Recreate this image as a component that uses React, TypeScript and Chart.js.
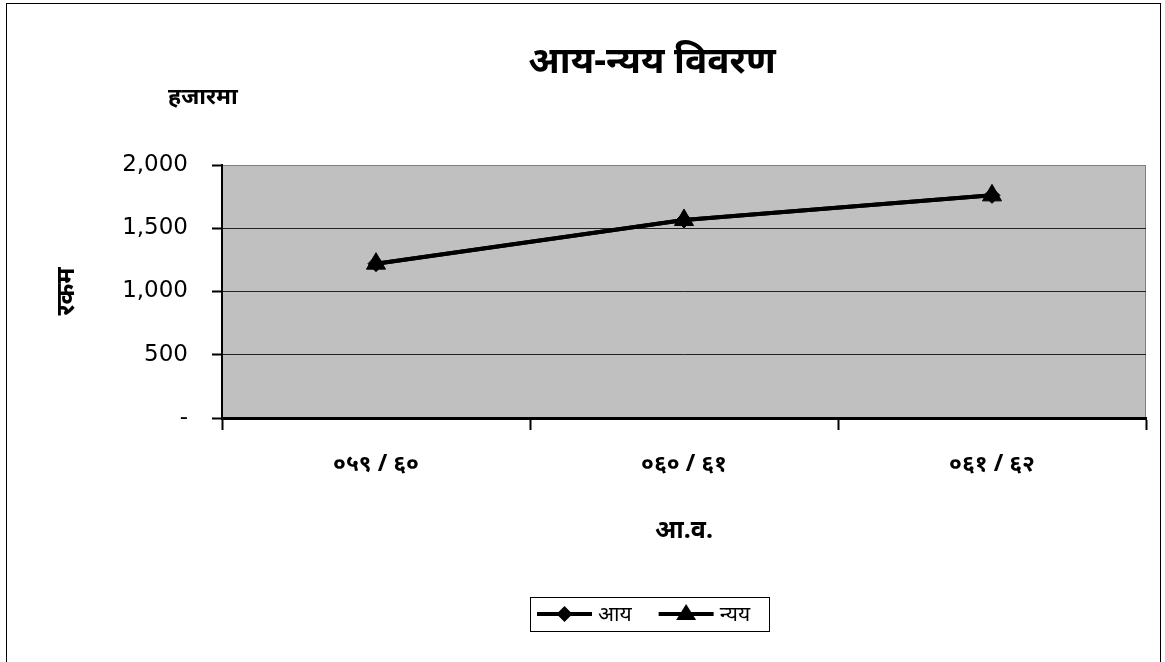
import React, { useEffect, useRef } from "react";
import { Chart, registerables } from "chart.js";

Chart.register(...registerables);

const categories = ["०५९ / ६०", "०६० / ६१", "०६१ / ६२"];
const aayValues = [1220, 1565, 1760];
const nyayValues = [1220, 1565, 1760];
const seriesNames = ["आय", "न्यय"];
const chartTitle = "आय-न्यय विवरण";
const unitLabel = "हजारमा";
const xTitle = "आ.व.";
const yTitle = "रकम";

const DEV = "'Noto Sans', 'DejaVu Sans', sans-serif";

const decorPlugin = {
  id: "decor",
  beforeDraw(chart: any) {
    const { ctx, chartArea } = chart;
    ctx.save();
    ctx.fillStyle = "#ffffff";
    ctx.fillRect(0, 0, chart.width, chart.height);
    ctx.fillStyle = "#c0c0c0";
    ctx.fillRect(chartArea.left, chartArea.top, chartArea.right - chartArea.left, chartArea.bottom - chartArea.top);
    ctx.strokeStyle = "#808080";
    ctx.lineWidth = 1;
    ctx.strokeRect(chartArea.left + 0.5, chartArea.top + 0.5, chartArea.right - chartArea.left - 1, chartArea.bottom - chartArea.top - 1);
    ctx.restore();
  },
  afterDraw(chart: any) {
    const { ctx } = chart;
    ctx.save();
    // outer frame
    ctx.strokeStyle = "#000";
    ctx.lineWidth = 1;
    ctx.strokeRect(6.5, 3.5, 1154, 720);
    // title
    ctx.fillStyle = "#000";
    ctx.textAlign = "center";
    ctx.textBaseline = "middle";
    ctx.font = `bold 37px ${DEV}`;
    ctx.fillText(chartTitle, 652, 62);
    ctx.font = `bold 23px ${DEV}`;
    ctx.fillText(unitLabel, 203, 97);

    // legend
    const legendFont = `21px ${DEV}`;
    ctx.font = legendFont;
    const lineLen = 55;
    const gap = 6;
    const itemGap = 27;
    const w0 = ctx.measureText(seriesNames[0]).width;
    const w1 = ctx.measureText(seriesNames[1]).width;
    const inner = lineLen + gap + w0 + itemGap + lineLen + gap + w1;
    const padX = 7;
    const boxW = Math.max(inner + padX * 2, 239);
    const cx = 649;
    const boxL = Math.round(cx - boxW / 2);
    const boxT = 597;
    const boxH = 34;
    ctx.strokeStyle = "#000";
    ctx.lineWidth = 1;
    ctx.strokeRect(boxL + 0.5, boxT + 0.5, boxW, boxH);
    const cy = boxT + boxH / 2;
    let x = boxL + padX;
    const styles = ["rectRot", "triangle"];
    const names = seriesNames;
    const widths = [w0, w1];
    for (let i = 0; i < 2; i++) {
      ctx.strokeStyle = "#000";
      ctx.lineWidth = 4;
      ctx.beginPath();
      ctx.moveTo(x, cy);
      ctx.lineTo(x + lineLen, cy);
      ctx.stroke();
      ctx.fillStyle = "#000";
      ctx.lineWidth = 1;
      if (styles[i] === "rectRot") {
        const r = 8;
        ctx.beginPath();
        ctx.moveTo(x + lineLen / 2, cy - r);
        ctx.lineTo(x + lineLen / 2 + r, cy);
        ctx.lineTo(x + lineLen / 2, cy + r);
        ctx.lineTo(x + lineLen / 2 - r, cy);
        ctx.closePath();
        ctx.fill();
      } else {
        const r = 10;
        ctx.beginPath();
        ctx.moveTo(x + lineLen / 2, cy - r);
        ctx.lineTo(x + lineLen / 2 + r, cy + r * 0.6);
        ctx.lineTo(x + lineLen / 2 - r, cy + r * 0.6);
        ctx.closePath();
        ctx.fill();
      }
      ctx.font = legendFont;
      ctx.textAlign = "left";
      ctx.fillStyle = "#000";
      ctx.fillText(names[i], x + lineLen + gap, cy + 1);
      x += lineLen + gap + widths[i] + itemGap;
    }
    ctx.restore();
  },
};

export default function App() {
  const ref = useRef<HTMLCanvasElement | null>(null);
  useEffect(() => {
    if (!ref.current) return;
    const chart = new Chart(ref.current, {
      type: "line",
      data: {
        labels: categories,
        datasets: [
          {
            label: seriesNames[0],
            data: aayValues,
            borderColor: "#000",
            backgroundColor: "#000",
            borderWidth: 4,
            pointStyle: "rectRot",
            pointRadius: 8,
            pointBorderWidth: 1,
          },
          {
            label: seriesNames[1],
            data: nyayValues,
            borderColor: "#000",
            backgroundColor: "#000",
            borderWidth: 4,
            pointStyle: "triangle",
            pointRadius: 11,
            pointBorderWidth: 1,
          },
        ],
      },
      options: {
        animation: false,
        responsive: false,
        devicePixelRatio: 1,
        layout: { autoPadding: false, padding: { top: 165, right: 19, bottom: 116, left: 0 } },
        plugins: {
          legend: { display: false },
          title: { display: false },
          tooltip: { enabled: false },
        },
        scales: {
          x: {
            type: "category",
            offset: true,
            grid: {
              offset: true,
              drawOnChartArea: false,
              tickLength: 12,
              tickColor: "#000",
              tickWidth: 2,
            },
            border: { color: "#000", width: 3 },
            ticks: {
              color: "#000",
              padding: 21,
              font: { family: DEV, size: 23, weight: "bold" },
              maxRotation: 0,
            },
            title: {
              display: true,
              text: xTitle,
              color: "#000",
              font: { family: DEV, size: 25, weight: "bold" },
              padding: { top: 0, bottom: 0 },
            },
            afterFit(scale: any) {
              scale.height = 128;
            },
          },
          y: {
            min: 0,
            max: 2000,
            grid: {
              color: (c: any) => (c.tick && c.tick.value === 2000 ? "#808080" : "#222"),
              lineWidth: 1,
              tickLength: 10,
              tickColor: "#000",
              tickWidth: 2,
            },
            border: { color: "#000", width: 2 },
            ticks: {
              stepSize: 500,
              color: "#000",
              padding: 24,
              font: { family: "'DejaVu Sans', sans-serif", size: 23 },
              callback: (v: any) => (Number(v) === 0 ? "-" : Number(v).toLocaleString("en-US")),
            },
            title: {
              display: true,
              text: yTitle,
              color: "#000",
              font: { family: DEV, size: 25, weight: "bold" },
              padding: { top: 52, bottom: 0 },
            },
            afterFit(scale: any) {
              scale.width = 222;
            },
          },
        },
      },
      plugins: [decorPlugin],
    });
    return () => chart.destroy();
  }, []);
  return (
    <div style={{ position: "fixed", left: 0, top: 0, width: 1165, height: 662, background: "#fff" }}>
      <canvas ref={ref} width={1165} height={662} style={{ display: "block", width: 1165, height: 662 }} />
    </div>
  );
}
